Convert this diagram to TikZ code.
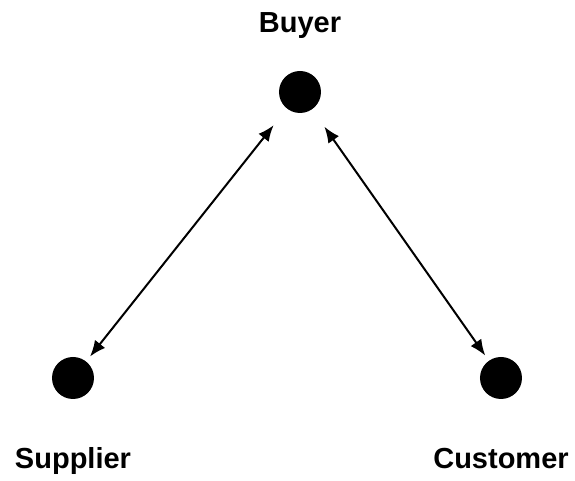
\documentclass[tikz,border=0pt]{standalone}
\usepackage{fontspec}
\setmainfont{Liberation Sans}
\usetikzlibrary{arrows.meta}

\begin{document}
\begin{tikzpicture}[x=0.5pt, y=-0.5pt,
	party/.style = {circle, fill = black, inner sep = 0pt, minimum size = 21pt},
	partylabel/.style = {anchor = base, font = \fontsize{14.5}{17}\selectfont\bfseries},
	link/.style = {{Latex[length=8pt,width=6.5pt]}-{Latex[length=8pt,width=6.5pt]}, line width = 1pt}]

	\useasboundingbox (0,0) rectangle (575,481);

	\node (buyer)[party] at (300,92) {};
	\node (supplier)[party] at (73,378) {};
	\node (customer)[party] at (501,378) {};

	\node (buyerlabel)[partylabel] at (300,33) {Buyer};
	\node (supplierlabel)[partylabel] at (73,469) {Supplier};
	\node (customerlabel)[partylabel] at (501,469) {Customer};

	\draw [link, shorten < = 10.5pt, shorten > = 3pt](buyer)--(supplier);
	\draw [link, shorten < = 10.5pt, shorten > = 3pt](buyer)--(customer);
\end{tikzpicture}
\end{document}
